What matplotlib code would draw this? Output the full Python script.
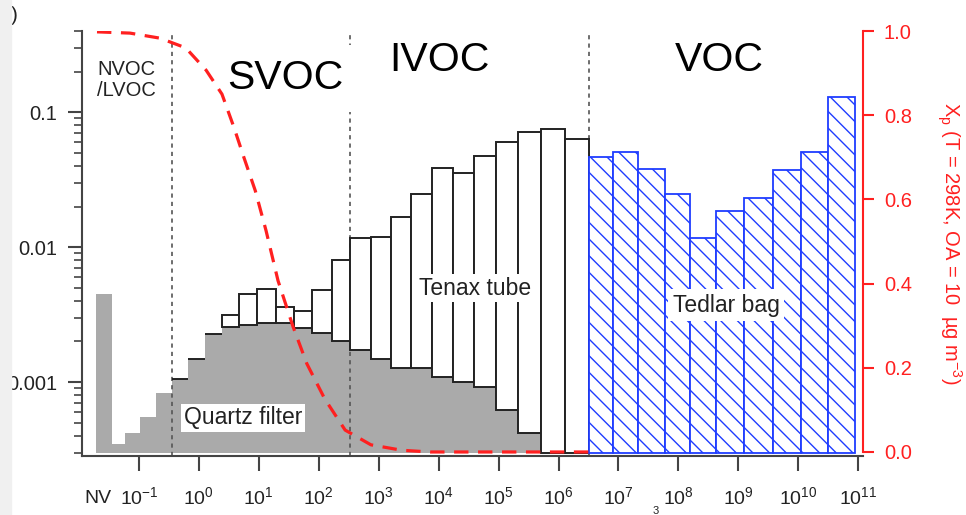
import numpy as np
import matplotlib
matplotlib.use("Agg")
import matplotlib.pyplot as plt
from matplotlib.patches import Rectangle
from matplotlib.ticker import LogLocator, NullFormatter, FormatStrFormatter

plt.rcParams['font.family'] = ['Liberation Sans', 'DejaVu Sans']
plt.rcParams['mathtext.fontset'] = 'custom'
plt.rcParams['mathtext.rm'] = 'Liberation Sans'
plt.rcParams['mathtext.it'] = 'Liberation Sans:italic'
plt.rcParams['mathtext.bf'] = 'Liberation Sans:bold'
plt.rcParams['hatch.linewidth'] = 1.0

#volatility bins, edges in log10(C*)
bin_edges = [-1.45, -1.23, -0.98, -0.72, -0.45, -0.18, 0.10, 0.39, 0.67, 0.97,
             1.29, 1.59, 1.89, 2.22, 2.52, 2.87, 3.21, 3.54, 3.89, 4.24,
             4.59, 4.96, 5.33, 5.71, 6.11, 6.50, 6.91, 7.33, 7.77, 8.20,
             8.63, 9.10, 9.58, 10.05, 10.49, 10.94]

#quartz filter (gray), 0 = nothing collected
quartz = [3.47e-4, 4.19e-4, 5.51e-4, 8.3e-4, 1.05e-3, 1.48e-3, 2.27e-3, 2.55e-3,
          2.64e-3, 2.73e-3, 2.73e-3, 2.51e-3, 2.31e-3, 2.01e-3, 1.73e-3, 1.48e-3,
          1.27e-3, 1.27e-3, 1.09e-3, 1.0e-3, 9.2e-4, 6.2e-4, 4.2e-4, 0, 0]

#tenax tube, top of stacked bar (nan = no tenax)
tenax = [np.nan, np.nan, np.nan, np.nan, 1.05e-3, 1.48e-3, 2.27e-3, 3.13e-3,
         4.5e-3, 4.9e-3, 3.6e-3, 3.36e-3, 4.8e-3, 8.0e-3, 0.0117, 0.0119,
         0.0167, 0.0247, 0.0385, 0.0353, 0.0472, 0.060, 0.0711, 0.0748, 0.063]

#tedlar bag (VOC bins)
tedlar = [0.0464, 0.0506, 0.0378, 0.0247, 0.0117, 0.0185, 0.0231, 0.0372, 0.0506, 0.129]

#non-volatile bin
nv_edges = [-1.72, -1.45]
nv_quartz = 0.0045

#partitioning fraction curve
xp_logc = [-1.70, -1.15, -0.65, -0.22, 0.12, 0.385, 0.585, 0.75, 0.94, 1.12,
           1.32, 1.57, 1.80, 2.10, 2.44, 2.87, 3.39, 3.86, 6.50]
xp = [0.998, 0.995, 0.983, 0.96, 0.907, 0.85, 0.771, 0.70, 0.621, 0.526,
      0.407, 0.298, 0.21, 0.126, 0.052, 0.017, 0.004, 0.0, 0.0]

#class boundaries
bounds = [-0.45, 2.52, 6.50]
decades = list(range(-1, 12))

base = 3e-4
dark = '#444444'
red = '#ff2020'
blue = '#1f3dff'

fig = plt.figure(figsize=(9.66, 5.15), dpi=100)
ax = fig.add_axes([0.0849, 0.1146, 0.8085, 0.8252])

edges = np.array(bin_edges)
left = edges[:-1]
w = np.diff(edges)
n = len(quartz)
q = np.array(quartz)
t = np.array(tenax)

#gray quartz bars
ax.bar(left[:n], np.where(q > 0, q - base, 0), w[:n], bottom=base, align='edge',
       color='#aaaaaa', lw=0, zorder=1)
ax.bar(nv_edges[0], nv_quartz - base, nv_edges[1] - nv_edges[0], bottom=base,
       align='edge', color='#aaaaaa', lw=0, zorder=1)

#tenax stacked on top
bot = np.where(q > 0, q, base)
has = ~np.isnan(t)
ax.bar(left[:n][has], (t - bot)[has], w[:n][has], bottom=bot[has], align='edge',
       facecolor='white', edgecolor='#222222', lw=1.4, zorder=3)

#tedlar hatched
ax.bar(left[n:], np.array(tedlar) - base, w[n:], bottom=base, align='edge',
       facecolor='white', edgecolor=blue, hatch='\\\\', lw=1.3, zorder=3)

for b in bounds:
    ax.axvline(b, color='#555555', lw=1.2, ls=(0, (2.5, 2.5)), zorder=2)

ax.set_yscale('log')
ax.set_ylim(2.83e-4, 0.4)
ax.set_xlim(-1.95, 11.08)

ax.set_yticks([1e-3, 1e-2, 1e-1])
ax.set_yticklabels(['0.001', '0.01', '0.1'])
ax.yaxis.set_minor_locator(LogLocator(subs=np.arange(2, 10)))
ax.yaxis.set_minor_formatter(NullFormatter())
ax.tick_params(axis='y', which='major', length=10, width=1.5, color=dark, pad=8,
               labelsize=14.5, labelcolor='#222222')
ax.tick_params(axis='y', which='minor', length=6, width=1.2, color=dark)
ax.set_xticks(decades)
ax.set_xticklabels([r'$\mathregular{10^{%d}}$' % d for d in decades])
ax.tick_params(axis='x', length=10.5, width=1.5, color=dark, pad=11,
               labelsize=14, labelcolor='#222222')
ax.text(-1.684, -0.111, 'NV', transform=ax.get_xaxis_transform(), ha='center',
        va='baseline', fontsize=14, color='#222222')

for s in ['top', 'right']:
    ax.spines[s].set_visible(False)
for s in ['left', 'bottom']:
    ax.spines[s].set_color(dark)
    ax.spines[s].set_linewidth(1.5)

#labels
ax.text(0.0192, 0.885, 'NVOC\n/LVOC', transform=ax.transAxes, ha='left', va='center',
        fontsize=14.5, color='#222222', linespacing=1.1)
ax.text(0.260, 0.889, 'SVOC', transform=ax.transAxes, ha='center', va='center',
        fontsize=29.5, color='black', zorder=5,
        bbox=dict(boxstyle='square,pad=0.35', fc='white', ec='none'))
ax.text(0.458, 0.932, 'IVOC', transform=ax.transAxes, ha='center', va='center',
        fontsize=29.5, color='black')
ax.text(0.816, 0.932, 'VOC', transform=ax.transAxes, ha='center', va='center',
        fontsize=29.5, color='black')
box = dict(boxstyle='square,pad=0.12', fc='white', ec='none')
ax.text(0.206, 0.0894, 'Quartz filter', transform=ax.transAxes, ha='center', va='center',
        fontsize=16.5, color='#222222', zorder=5, bbox=box)
ax.text(0.503, 0.395, 'Tenax tube', transform=ax.transAxes, ha='center', va='center',
        fontsize=16.5, color='#222222', zorder=5, bbox=box)
ax.text(0.8246, 0.355, 'Tedlar bag', transform=ax.transAxes, ha='center', va='center',
        fontsize=16.5, color='#222222', zorder=5,
        bbox=dict(boxstyle='square,pad=0.2', fc='white', ec='none'))

#right axis, partitioning fraction
ax2 = ax.twinx()
ax2.set_ylim(-0.0095, 1.0)
ax2.plot(xp_logc, xp, color=red, lw=2.3, dashes=(4.5, 3))
ax2.set_yticks(np.arange(0, 1.01, 0.2))
ax2.yaxis.set_major_formatter(FormatStrFormatter('%.1f'))
ax2.tick_params(axis='y', colors=red, length=8, width=1.5, pad=7, labelsize=14.5)
for s in ['top', 'left', 'bottom']:
    ax2.spines[s].set_visible(False)
ax2.spines['right'].set_color(red)
ax2.spines['right'].set_linewidth(1.5)
ax2.spines['right'].set_bounds(0, 1)
ax2.text(1.110, 0.5, r'$\mathregular{X_p}$ (T = 298K, OA = 10  µg m$\mathregular{^{-3}}$)',
         transform=ax2.transAxes, rotation=270, ha='center', va='center',
         fontsize=14.5, color=red)

#cropped edges of the original panel
fig.add_artist(Rectangle((0, 0), 11 / 966, 1, transform=fig.transFigure,
                         color='#f0f0f0', zorder=5))
fig.text(11 / 966, 1 - 6 / 515, ')', ha='left', va='top', fontsize=15, color='#222222')
fig.text(656 / 966, 1 - 506 / 515, '3', ha='center', va='top', fontsize=8, color='#222222')

fig.savefig('out.png', dpi=100)
